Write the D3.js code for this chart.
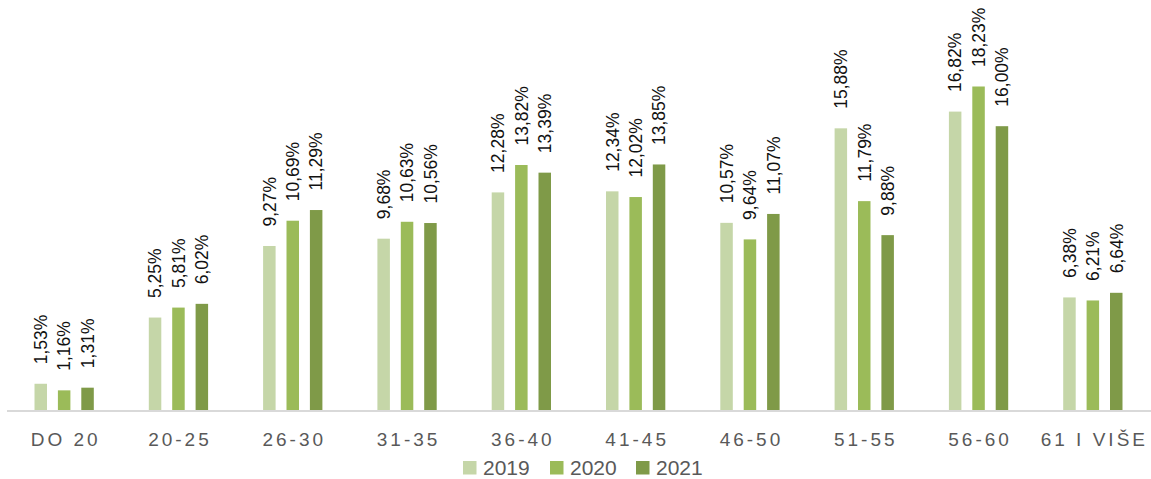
<!DOCTYPE html>
<html>
<head>
<meta charset="utf-8">
<script src="https://cdn.jsdelivr.net/npm/d3@7"></script>
<style>
  body { margin: 0; background: #fff; }
  svg { display: block; }
</style>
</head>
<body>
<svg id="chart" width="1151" height="479"></svg>
<script>
// age groups and share of each year (in %)
var categories = ["DO 20", "20-25", "26-30", "31-35", "36-40", "41-45", "46-50", "51-55", "56-60", "61 I VIŠE"];
var years = ["2019", "2020", "2021"];
var values2019 = [1.53, 5.25, 9.27, 9.68, 12.28, 12.34, 10.57, 15.88, 16.82, 6.38];
var values2020 = [1.16, 5.81, 10.69, 10.63, 13.82, 12.02, 9.64, 11.79, 18.23, 6.21];
var values2021 = [1.31, 6.02, 11.29, 10.56, 13.39, 13.85, 11.07, 9.88, 16.00, 6.64];

var colors = {"2019": "#c5d6a8", "2020": "#9bbb59", "2021": "#7f9a48"};
var series = {"2019": values2019, "2020": values2020, "2021": values2021};

var svg = d3.select("#chart");
var baseY = 411;

var x = d3.scaleBand().domain(categories).range([7, 1150]);
var y = d3.scaleLinear().domain([0, 18.23]).range([baseY, 86.5]);

var data = [];
categories.forEach(function (c, i) {
  years.forEach(function (yr) {
    data.push({cat: c, year: yr, value: series[yr][i]});
  });
});

function inner(c) {
  var cx = x(c) + x.bandwidth() / 2;
  return d3.scaleBand().domain(years).range([cx - 35.1, cx + 35.1])
    .paddingInner(0.466).paddingOuter(0.233);
}

var g = svg.append("g");

g.selectAll("rect.bar")
  .data(data)
  .enter().append("rect")
  .attr("class", "bar")
  .attr("x", function (d) { return inner(d.cat)(d.year); })
  .attr("width", function (d) { return inner(d.cat).bandwidth(); })
  .attr("y", function (d) { return y(d.value); })
  .attr("height", function (d) { return baseY - y(d.value); })
  .attr("fill", function (d) { return colors[d.year]; });

// rotated value labels
g.selectAll("text.val")
  .data(data)
  .enter().append("text")
  .attr("class", "val")
  .attr("transform", function (d) {
    var s = inner(d.cat);
    var cx = s(d.year) + s.bandwidth() / 2;
    return "translate(" + cx + "," + (y(d.value) - 19.5) + ") rotate(-90)";
  })
  .attr("dy", "0.36em")
  .attr("font-family", "Liberation Sans, Arial, sans-serif")
  .attr("font-size", "17.5px")
  .attr("fill", "#111")
  .text(function (d) { return d.value.toFixed(2).replace(".", ",") + "%"; });

// axis
var xAxis = d3.axisBottom(x).tickSize(0).tickPadding(0);
var ax = svg.append("g")
  .attr("transform", "translate(0," + baseY + ")")
  .call(xAxis);
ax.select(".domain").attr("stroke", "#d9d9d9").attr("stroke-width", 2)
  .attr("d", "M7,0H1151");
ax.selectAll(".tick text")
  .attr("y", 35)
  .attr("dy", 0)
  .attr("dx", "1.5px")
  .attr("font-family", "Liberation Sans, Arial, sans-serif")
  .attr("font-size", "19px")
  .attr("letter-spacing", "3px")
  .attr("fill", "#595959");

// legend
var legendX = [463, 550, 636];
var legend = svg.append("g");
years.forEach(function (yr, i) {
  legend.append("rect")
    .attr("x", legendX[i]).attr("y", 461)
    .attr("width", 13.5).attr("height", 13.5)
    .attr("fill", colors[yr]);
  legend.append("text")
    .attr("x", legendX[i] + 20).attr("y", 475)
    .attr("font-family", "Liberation Sans, Arial, sans-serif")
    .attr("font-size", "21px")
    .attr("fill", "#595959")
    .text(yr);
});
</script>
</body>
</html>
